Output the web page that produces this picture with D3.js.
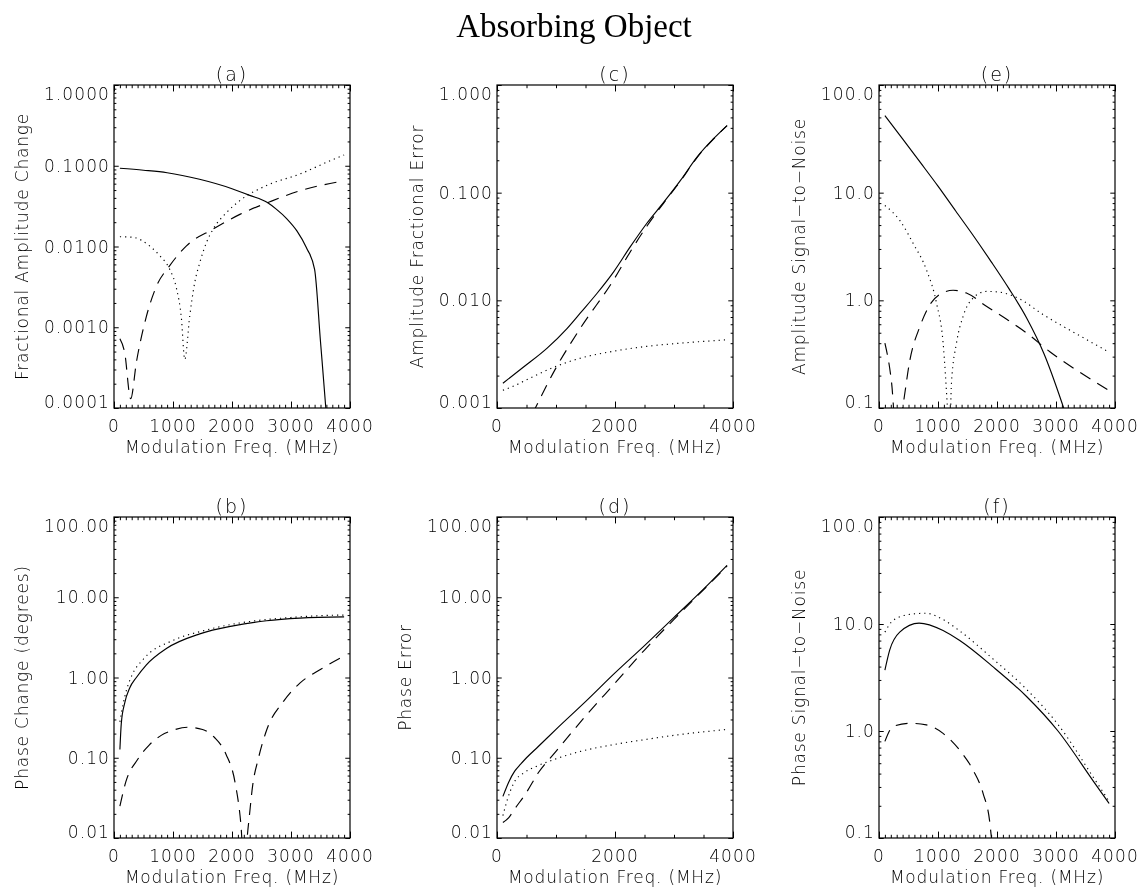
<!DOCTYPE html>
<html><head><meta charset="utf-8">
<script src="https://cdn.jsdelivr.net/npm/d3@7"></script>
<style>
body{margin:0;background:#fff;}
svg{display:block;filter:grayscale(100%);}
text{font-family:"DejaVu Sans",sans-serif;font-weight:200;fill:#000;}
</style></head><body>
<svg id="chart" width="1148" height="895"></svg>
<script>
// ---------------- DATA ----------------
const chartTitle = "Absorbing Object";
const xTitle = "Modulation Freq. (MHz)";

// (a) Fractional Amplitude Change
const aSolidX  = [100, 500, 900, 1450, 2000, 2300, 2600, 2750, 2930, 3100, 3260, 3400, 3500, 3590, 3620];
const aSolidY  = [0.093, 0.088, 0.082, 0.068, 0.052, 0.043, 0.035, 0.029, 0.022, 0.0156, 0.0097, 0.0052, 0.00066, 0.0001, 0.00005];
const aDotX    = [100, 320, 600, 775, 945, 1060, 1140, 1200, 1284, 1369, 1454, 1567, 1680, 1907, 2133, 2586, 3151, 3717, 3900];
const aDotY    = [0.0132, 0.013, 0.0102, 0.0077, 0.0052, 0.0030, 0.00135, 0.0004, 0.00138, 0.0036, 0.0063, 0.0112, 0.0164, 0.0263, 0.037, 0.057, 0.079, 0.12, 0.136];
const aDashX   = [100, 180, 283, 380, 549, 718, 945, 1228, 1680, 2133, 2642, 3151, 3900];
const aDashY   = [0.00072, 0.00049, 0.00013, 0.00037, 0.00136, 0.0032, 0.0058, 0.0102, 0.0164, 0.025, 0.0358, 0.049, 0.065];

// (b) Phase Change (degrees)
const bSolidX  = [100, 124, 181, 266, 379, 549, 888, 1454, 2020, 2586, 3151, 3900];
const bSolidY  = [0.127, 0.27, 0.48, 0.74, 1.0, 1.44, 2.3, 3.5, 4.4, 5.1, 5.5, 5.7];
const bDotX    = [100, 150, 200, 300, 500, 1000, 1500, 2000, 2500, 3000, 3500, 3900];
const bDotY    = [0.28, 0.45, 0.65, 1.05, 1.7, 2.9, 3.8, 4.6, 5.2, 5.6, 5.9, 6.0];
const bDashX   = [100, 200, 400, 600, 800, 1000, 1250, 1500, 1700, 1900, 2050, 2150, 2200, 2280, 2350, 2450, 2586, 2870, 3150, 3490, 3900];
const bDashY   = [0.025, 0.05, 0.095, 0.145, 0.19, 0.22, 0.24, 0.225, 0.18, 0.11, 0.05, 0.015, 0.005, 0.015, 0.045, 0.1, 0.22, 0.5, 0.85, 1.25, 1.85];

// (c) Amplitude Fractional Error
const cSolidX  = [100, 450, 850, 1190, 1410, 1700, 1980, 2260, 2540, 2830, 3110, 3390, 3670, 3900];
const cSolidY  = [0.0017, 0.0024, 0.0036, 0.0055, 0.0076, 0.0117, 0.0185, 0.0315, 0.052, 0.082, 0.13, 0.214, 0.317, 0.42];
const cDotX    = [100, 283, 565, 960, 1412, 1977, 2542, 3107, 3900];
const cDotY    = [0.00146, 0.0016, 0.0019, 0.00239, 0.0029, 0.00337, 0.00374, 0.0040, 0.0043];
const cDashX   = [600, 650, 1017, 1412, 1977, 2260, 2542, 2825, 3110, 3390, 3670, 3900];
const cDashY   = [0.00088, 0.001, 0.00245, 0.0055, 0.0155, 0.0283, 0.049, 0.080, 0.128, 0.212, 0.315, 0.42];

// (d) Phase Error
const dSolidX  = [100, 200, 300, 400, 500, 700, 1000, 1500, 2000, 2500, 3000, 3500, 3900];
const dSolidY  = [0.033, 0.05, 0.068, 0.083, 0.1, 0.138, 0.226, 0.5, 1.14, 2.5, 5.6, 12.6, 25];
const dDotX    = [100, 175, 288, 457, 683, 965, 1416, 1980, 2544, 3108, 3900];
const dDotY    = [0.019, 0.030, 0.049, 0.065, 0.079, 0.095, 0.12, 0.146, 0.17, 0.195, 0.225];
const dDashX   = [100, 200, 300, 500, 700, 1000, 1500, 2000, 2500, 3000, 3500, 3900];
const dDashY   = [0.0156, 0.018, 0.023, 0.037, 0.065, 0.12, 0.33, 0.85, 2.2, 5.3, 12.4, 24.5];

// (e) Amplitude Signal-to-Noise
const eSolidX  = [100, 400, 700, 1000, 1300, 1600, 1900, 2200, 2500, 2800, 3100, 3250];
const eSolidY  = [52, 31.6, 19.1, 11.5, 6.76, 3.98, 2.29, 1.29, 0.69, 0.316, 0.112, 0.063];
const eDotX    = [100, 355, 580, 806, 975, 1087, 1161, 1195, 1228, 1313, 1425, 1594, 1820, 2045, 2383, 2777, 3341, 3900];
const eDotY    = [7.6, 5.5, 3.37, 1.91, 0.94, 0.40, 0.1, 0.05, 0.17, 0.40, 0.71, 1.05, 1.21, 1.19, 1.03, 0.74, 0.49, 0.33];
const eDashX   = [100, 214, 300, 400, 524, 693, 862, 1059, 1256, 1482, 1820, 2158, 2496, 2890, 3341, 3900];
const eDashY   = [0.40, 0.17, 0.05, 0.1, 0.28, 0.57, 0.91, 1.16, 1.24, 1.17, 0.88, 0.67, 0.50, 0.335, 0.226, 0.145];

// (f) Phase Signal-to-Noise
const fSolidX  = [100, 181, 351, 679, 1086, 1369, 1935, 2501, 3034, 3632, 3900];
const fSolidY  = [3.7, 5.7, 8.4, 10.2, 8.7, 7.0, 3.97, 2.1, 1.0, 0.34, 0.21];
const fDotX    = [100, 238, 520, 803, 1086, 1369, 1935, 2501, 3034, 3632, 3900];
const fDotY    = [8.4, 10.8, 12.3, 12.6, 11.0, 8.6, 4.7, 2.45, 1.15, 0.37, 0.22];
const fDashX   = [100, 238, 520, 803, 1086, 1369, 1595, 1765, 1878, 1907, 1950];
const fDashY   = [0.8, 1.1, 1.18, 1.14, 0.95, 0.66, 0.43, 0.26, 0.14, 0.1, 0.08];

// Tick values / labels
const xTicks1000 = [0, 1000, 2000, 3000, 4000];
const xTicks1000Labels = ["0", "1000", "2000", "3000", "4000"];
const xTicks2000 = [0, 2000, 4000];
const xTicks2000Labels = ["0", "2000", "4000"];

const aYTicks = [0.0001, 0.001, 0.01, 0.1, 1];
const aYLabels = ["0.0001", "0.0010", "0.0100", "0.1000", "1.0000"];
const bYTicks = [0.01, 0.1, 1, 10, 100];
const bYLabels = ["0.01", "0.10", "1.00", "10.00", "100.00"];
const cYTicks = [0.001, 0.01, 0.1, 1];
const cYLabels = ["0.001", "0.010", "0.100", "1.000"];
const dYTicks = [0.01, 0.1, 1, 10, 100];
const dYLabels = ["0.01", "0.10", "1.00", "10.00", "100.00"];
const eYTicks = [0.1, 1, 10, 100];
const eYLabels = ["0.1", "1.0", "10.0", "100.0"];
const fYTicks = [0.1, 1, 10, 100];
const fYLabels = ["0.1", "1.0", "10.0", "100.0"];

const panelLetters = ["(a)", "(b)", "(c)", "(d)", "(e)", "(f)"];
const yTitles = ["Fractional Amplitude Change", "Phase Change (degrees)", "Amplitude Fractional Error",
                 "Phase Error", "Amplitude Signal\u2212to\u2212Noise", "Phase Signal\u2212to\u2212Noise"];

// ---------------- LAYOUT ----------------
const cols = [[114, 350], [497, 733], [879, 1115]];
const rows = [[85, 408], [517, 838]];

const panels = [
  {letter: 0, title: 0, col: 0, row: 0, yt: aYTicks, yl: aYLabels, xt: xTicks1000, xl: xTicks1000Labels, xminor: 100,
   series: [[aSolidX, aSolidY, "solid"], [aDotX, aDotY, "dot"], [aDashX, aDashY, "dash"]]},
  {letter: 1, title: 1, col: 0, row: 1, yt: bYTicks, yl: bYLabels, xt: xTicks1000, xl: xTicks1000Labels, xminor: 100,
   series: [[bSolidX, bSolidY, "solid"], [bDotX, bDotY, "dot"], [bDashX, bDashY, "dash"]]},
  {letter: 2, title: 2, col: 1, row: 0, yt: cYTicks, yl: cYLabels, xt: xTicks2000, xl: xTicks2000Labels, xminor: 500,
   series: [[cSolidX, cSolidY, "solid"], [cDotX, cDotY, "dot"], [cDashX, cDashY, "dash"]]},
  {letter: 3, title: 3, col: 1, row: 1, yt: dYTicks, yl: dYLabels, xt: xTicks2000, xl: xTicks2000Labels, xminor: 500,
   series: [[dSolidX, dSolidY, "solid"], [dDotX, dDotY, "dot"], [dDashX, dDashY, "dash"]]},
  {letter: 4, title: 4, col: 2, row: 0, yt: eYTicks, yl: eYLabels, xt: xTicks1000, xl: xTicks1000Labels, xminor: 100,
   series: [[eSolidX, eSolidY, "solid"], [eDotX, eDotY, "dot"], [eDashX, eDashY, "dash"]]},
  {letter: 5, title: 5, col: 2, row: 1, yt: fYTicks, yl: fYLabels, xt: xTicks1000, xl: xTicks1000Labels, xminor: 100,
   series: [[fSolidX, fSolidY, "solid"], [fDotX, fDotY, "dot"], [fDashX, fDashY, "dash"]]}
];

const styles = {
  solid: {dash: null},
  dot: {dash: "1.2,4"},
  dash: {dash: "12,8"}
};

const svg = d3.select("#chart");
svg.append("rect").attr("width", 1148).attr("height", 895).attr("fill", "#fff");

svg.append("text").attr("x", 574).attr("y", 37).attr("text-anchor", "middle")
  .style("font-family", "'Liberation Serif','Times New Roman',serif").style("font-size", "33px")
  .style("font-weight", "normal").style("fill", "#000").text(chartTitle);

const FS = 17;
const LS_NUM = "1.1px";   // letter spacing for numbers
const LS_TXT = "0.8px";   // letter spacing for words

panels.forEach((p, i) => {
  const [L, R] = cols[p.col];
  const [T, B] = rows[p.row];
  const x = d3.scaleLinear().domain([0, 4000]).range([L, R]);
  const y = d3.scaleLog().domain([p.yt[0], p.yt[p.yt.length - 1]]).range([B, T]);
  const g = svg.append("g");

  const clipId = "clip" + i;
  svg.append("clipPath").attr("id", clipId).append("rect")
    .attr("x", L).attr("y", T).attr("width", R - L).attr("height", B - T);

  // series
  const line = d3.line().x(d => x(d[0])).y(d => y(d[1])).curve(d3.curveMonotoneX);
  const lg = g.append("g").attr("clip-path", `url(#${clipId})`);
  p.series.forEach(([xs, ys, st]) => {
    const pts = xs.map((v, k) => [v, ys[k]]);
    lg.append("path").attr("d", line(pts)).attr("fill", "none")
      .attr("stroke", "#000").attr("stroke-width", 1.15)
      .attr("stroke-dasharray", styles[st].dash);
  });

  // ticks (inward, on all four sides)
  const xMinor = d3.range(0, 4001, p.xminor).filter(v => !p.xt.includes(v));
  const yMinor = [];
  for (let k = 0; k < p.yt.length - 1; k++) for (let m = 2; m <= 9; m++) yMinor.push(p.yt[k] * m);
  const xLen = 0.02 * (B - T), yLen = 0.02 * (R - L);
  const tickGroups = [
    [d3.axisBottom(x).tickValues(p.xt).tickSize(-xLen), `translate(0,${B})`],
    [d3.axisBottom(x).tickValues(xMinor).tickSize(-xLen / 2), `translate(0,${B})`],
    [d3.axisTop(x).tickValues(p.xt).tickSize(-xLen), `translate(0,${T})`],
    [d3.axisTop(x).tickValues(xMinor).tickSize(-xLen / 2), `translate(0,${T})`],
    [d3.axisLeft(y).tickValues(p.yt).tickSize(-yLen), `translate(${L},0)`],
    [d3.axisLeft(y).tickValues(yMinor).tickSize(-yLen / 2), `translate(${L},0)`],
    [d3.axisRight(y).tickValues(p.yt).tickSize(-yLen), `translate(${R},0)`],
    [d3.axisRight(y).tickValues(yMinor).tickSize(-yLen / 2), `translate(${R},0)`]
  ];
  tickGroups.forEach(([ax, tr]) => {
    const a = g.append("g").attr("transform", tr).call(ax.tickFormat(""));
    a.select(".domain").remove();
    a.selectAll("line").attr("stroke", "#000").attr("stroke-width", 1);
  });

  // frame
  g.append("rect").attr("x", L).attr("y", T).attr("width", R - L).attr("height", B - T)
    .attr("fill", "none").attr("stroke", "#000").attr("stroke-width", 1.2);

  // x tick labels
  p.xt.forEach((v, k) => {
    g.append("text").attr("x", x(v)).attr("y", B + 24).attr("text-anchor", "middle")
      .style("font-size", FS + "px").style("letter-spacing", LS_NUM).text(p.xl[k]);
  });
  // y tick labels
  const yl = g.append("g");
  p.yt.forEach((v, k) => {
    let yy = y(v) + 6;
    if (k === 0) yy = B;
    if (k === p.yt.length - 1) yy = T + 15;
    yl.append("text").attr("x", L - 4).attr("y", yy).attr("text-anchor", "end")
      .style("font-size", FS + "px").style("letter-spacing", LS_NUM).text(p.yl[k]);
  });
  const minX = d3.min(yl.selectAll("text").nodes(), n => n.getBBox().x);

  // x title
  g.append("text").attr("x", (L + R) / 2).attr("y", B + 45).attr("text-anchor", "middle")
    .style("font-size", FS + "px").style("letter-spacing", LS_TXT).text(xTitle);
  // y title
  const ty = (T + B) / 2, tx = minX - 16;
  g.append("text").attr("transform", `translate(${tx},${ty}) rotate(-90)`).attr("text-anchor", "middle")
    .style("font-size", FS + "px").style("letter-spacing", LS_TXT).text(yTitles[p.title]);
  // panel letter
  g.append("text").attr("x", (L + R) / 2).attr("y", T - 4).attr("text-anchor", "middle")
    .style("font-size", "19px").style("letter-spacing", "2px").text(panelLetters[p.letter]);
});
</script>
</body></html>
